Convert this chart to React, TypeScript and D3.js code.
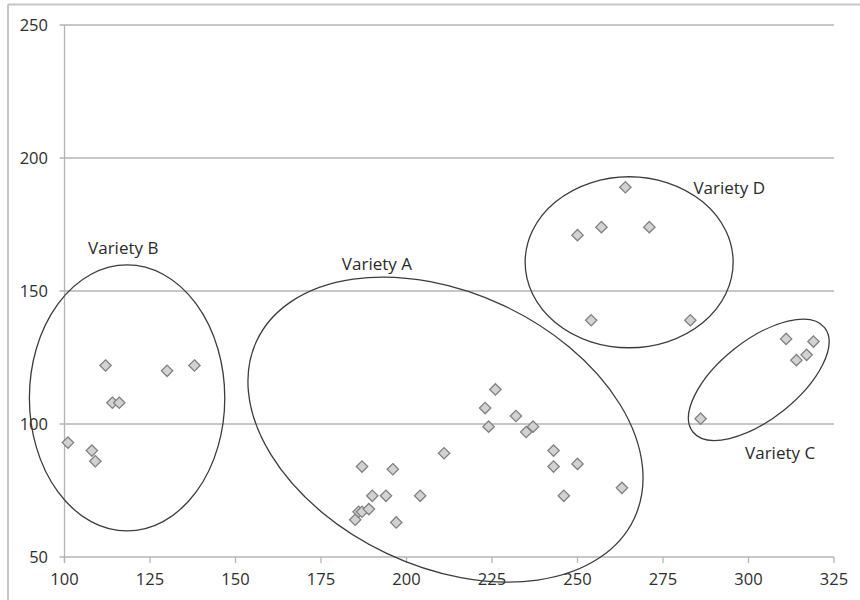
import React from "react";
import * as d3 from "d3";

const xTicks = [100, 125, 150, 175, 200, 225, 250, 275, 300, 325];
const yTicks = [50, 100, 150, 200, 250];

const varietyAX = [185, 186, 187, 189, 187, 190, 194, 196, 197, 204, 211, 223, 224, 226, 232, 235, 237, 243, 243, 246, 250, 263];
const varietyAY = [64, 67, 67, 68, 84, 73, 73, 83, 63, 73, 89, 106, 99, 113, 103, 97, 99, 90, 84, 73, 85, 76];
const varietyBX = [101, 108, 109, 112, 114, 116, 130, 138];
const varietyBY = [93, 90, 86, 122, 108, 108, 120, 122];
const varietyCX = [286, 311, 314, 317, 319];
const varietyCY = [102, 132, 124, 126, 131];
const varietyDX = [250, 254, 257, 264, 271, 283];
const varietyDY = [171, 139, 174, 189, 174, 139];

const groupNames = ["Variety A", "Variety B", "Variety C", "Variety D"];
const groupCenterX = [211.4, 118.3, 303, 265.1];
const groupCenterY = [97.9, 109.8, 116.6, 160.8];
const labelX = [181.1, 106.9, 299, 283.9];
const labelY = [157.9, 163.9, 86.8, 186.5];

// ellipse shape (pixels / degrees) – styling for annotations
const ellRx = [208.6, 97.7, 84, 104];
const ellRy = [137, 133, 39.4, 85.5];
const ellRot = [25.2, 0, -38.4, 0];

export default function App() {
  const width = 860;
  const height = 600;
  const x = d3.scaleLinear().domain([100, 325]).range([64.5, 834]);
  const y = d3.scaleLinear().domain([50, 250]).range([557, 25]);

  const points: [number, number][] = [];
  const add = (xs: number[], ys: number[]) => xs.forEach((v, i) => points.push([v, ys[i]]));
  add(varietyAX, varietyAY);
  add(varietyBX, varietyBY);
  add(varietyCX, varietyCY);
  add(varietyDX, varietyDY);

  const diamond = d3.symbol().type(d3.symbolDiamond2).size(82)();
  const font = "'Open Sans', sans-serif";
  const gridColor = "#b4b4b4";

  return (
    <svg
      width={width}
      height={height}
      style={{ position: "absolute", left: 0, top: 0, background: "#fff" }}
    >
      {/* outer frame */}
      <line x1={8} x2={860} y1={4.5} y2={4.5} stroke="#c6c6c6" strokeWidth={2} />
      <line x1={8} x2={8} y1={4.5} y2={600} stroke="#c6c6c6" strokeWidth={2} />

      {/* gridlines */}
      {yTicks.map((t) => (
        <line key={"g" + t} x1={x(100) - 5} x2={x(325)} y1={y(t)} y2={y(t)} stroke={gridColor} strokeWidth={1.3} />
      ))}
      {/* y axis */}
      <line x1={x(100)} x2={x(100)} y1={y(250)} y2={y(50) + 5} stroke={gridColor} strokeWidth={1.3} />
      {/* x ticks */}
      {xTicks.map((t) => (
        <line key={"xt" + t} x1={x(t)} x2={x(t)} y1={y(50)} y2={y(50) + 6} stroke={gridColor} strokeWidth={1.3} />
      ))}
      {/* tick labels */}
      {yTicks.map((t) => (
        <text key={"yl" + t} x={48} y={y(t)} dy="0.36em" textAnchor="end" fontFamily={font} fontSize={16.5} fill="#2e2e2e">
          {t}
        </text>
      ))}
      {xTicks.map((t) => (
        <text key={"xl" + t} x={x(t)} y={585} textAnchor="middle" fontFamily={font} fontSize={16.5} fill="#2e2e2e">
          {t}
        </text>
      ))}

      {/* points */}
      {points.map(([px, py], i) => (
        <path
          key={"p" + i}
          d={diamond as string}
          transform={`translate(${x(px)},${y(py)})`}
          fill="#d2d2d2"
          stroke="#808080"
          strokeWidth={1.3}
        />
      ))}

      {/* ellipses */}
      {groupNames.map((g, i) => (
        <ellipse
          key={"e" + g}
          cx={0}
          cy={0}
          rx={ellRx[i]}
          ry={ellRy[i]}
          transform={`translate(${x(groupCenterX[i])},${y(groupCenterY[i])}) rotate(${ellRot[i]})`}
          fill="none"
          stroke="#3c3c3c"
          strokeWidth={1.3}
        />
      ))}

      {/* labels */}
      {groupNames.map((g, i) => (
        <text key={"l" + g} x={x(labelX[i])} y={y(labelY[i])} fontFamily={font} fontSize={17} fill="#2a2a2a">
          {g}
        </text>
      ))}
    </svg>
  );
}
